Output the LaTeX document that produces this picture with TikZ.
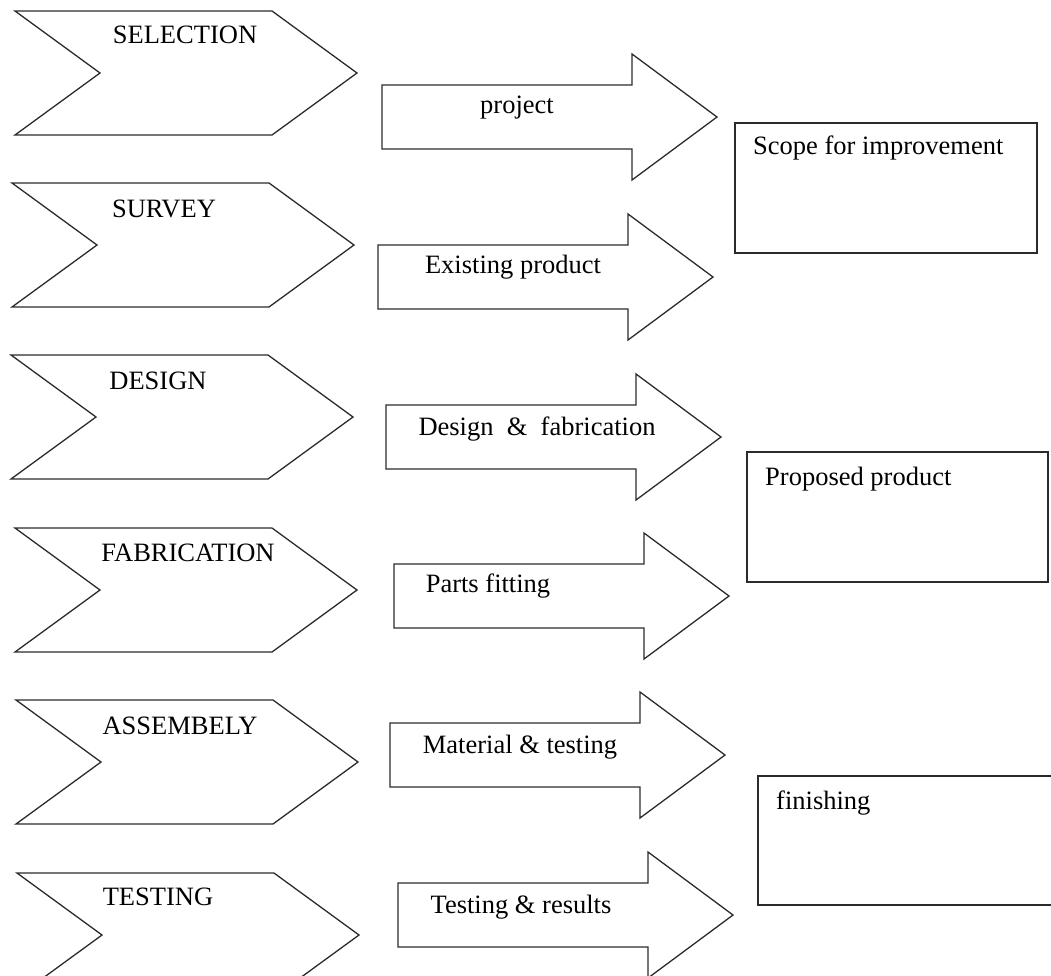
\documentclass[tikz,border=0pt]{standalone}
\usepackage{fontspec}
\setmainfont{Liberation Serif}
\definecolor{ink}{HTML}{2B2B2B}

\begin{document}
\begin{tikzpicture}[x=1pt, y=-1pt,
          shp/.style={draw=ink, line width=1.3pt, line join=miter},
          t/.style={font=\fontsize{26.5}{30}\selectfont, inner sep=0pt, anchor=base},
          tl/.style={t, anchor=base west}]
        \useasboundingbox (0,0) rectangle (1051,975);
        \clip (0,0) rectangle (1051,975);
        % stage chevrons
        \foreach \x/\y/\lbl/\tx/\ty [count=\i] in
            {15/11/SELECTION/185/43, 12/183/SURVEY/164/217, 11/355/DESIGN/158/389,
             15/528/FABRICATION/188/561, 16/700/ASSEMBELY/180/734, 17/873/TESTING/158/905}{
          \draw[shp] (\x,\y) -- ++(257,0) -- ++(85,62) -- ++(-85,62) -- ++(-257,0)
                     -- ++(85,-62) -- cycle;
          \node[t] (stage\i) at (\tx,\ty) {\lbl};
        }
        % block arrows
        \foreach \x/\y/\lbl/\tx/\ty [count=\i] in
            {382/85/{project}/517/113, 378/245/{Existing product}/513/273,
             386/405/{Design\ \ \&\ \ fabrication}/537/435, 394/564/{Parts fitting}/488/592,
             390/723/{Material \& testing}/520/753, 398/883/{Testing \& results}/521/913}{
          \draw[shp] (\x,\y) -- ++(250,0) -- ++(0,-31) -- ++(85,63) -- ++(-85,63)
                     -- ++(0,-31) -- ++(-250,0) -- cycle;
          \node[t] (step\i) at (\tx,\ty) {\lbl};
        }
        % outcome boxes
        \draw[shp] (735,123) rectangle (1037,253);
        \node[tl] (scope) at (753,154) {Scope for improvement};
        \draw[shp] (747,452) rectangle (1048,582);
        \node[tl] (proposed) at (765,485) {Proposed product};
        \draw[shp] (758,776) rectangle (1060,905);
        \node[tl] (finish) at (776,809) {finishing};
      \end{tikzpicture}
\end{document}
